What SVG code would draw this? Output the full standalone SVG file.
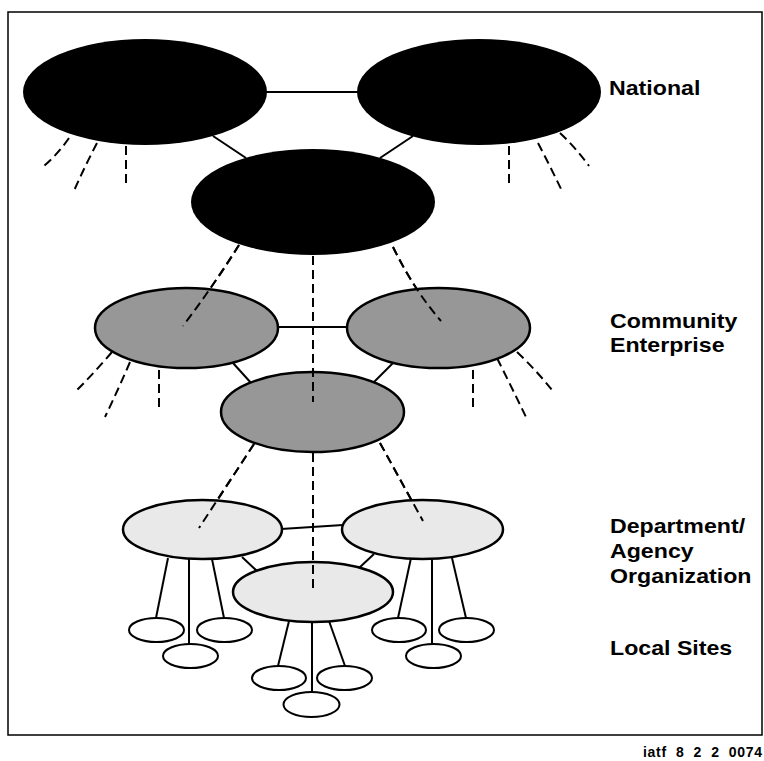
<svg xmlns="http://www.w3.org/2000/svg" width="764" height="761" viewBox="0 0 764 761">
<style>
.frame{fill:none;stroke:#000;stroke-width:1.5}
.nat{fill:#000;stroke:none}
.com{fill:#979797;stroke:#000;stroke-width:2.5}
.dep{fill:#e9e9e9;stroke:#000;stroke-width:2.5}
.loc{fill:#fff;stroke:#000;stroke-width:2}
.solid{fill:none;stroke:#000;stroke-width:2}
.dash{fill:none;stroke:#000;stroke-width:2;stroke-dasharray:9,5}
.lbl{font-family:"Liberation Sans",Arial,sans-serif;font-weight:bold;font-size:20.5px;fill:#000}
.cap{font-family:"Liberation Sans",Arial,sans-serif;font-weight:bold;font-size:14px;fill:#000}
</style>
<rect class="frame" x="8" y="12" width="754" height="723"/>
<g id="connectors">
  <line class="solid" x1="265" y1="92" x2="359" y2="92"/>
  <line class="solid" x1="213" y1="136" x2="246" y2="158"/>
  <line class="solid" x1="413" y1="136" x2="380" y2="158"/>
  <path class="dash" d="M69,138 Q58,154 44,166"/>
  <path class="dash" d="M97,143 Q84,168 73,193"/>
  <line class="dash" x1="126" y1="146" x2="126" y2="184"/>
  <line class="dash" x1="509" y1="146" x2="509" y2="184"/>
  <path class="dash" d="M538,143 Q551,168 563,193"/>
  <path class="dash" d="M560,133 Q576,148 589,166"/>
  <path class="dash" d="M239,245 Q214,285 183,326"/>
  <line class="dash" x1="313" y1="256" x2="313" y2="402"/>
  <path class="dash" d="M393,247 Q414,290 441,321"/>
  <line class="solid" x1="278" y1="327" x2="347" y2="327"/>
  <line class="solid" x1="233" y1="363" x2="252" y2="384"/>
  <line class="solid" x1="393" y1="363" x2="373" y2="383"/>
  <path class="dash" d="M112,352 Q95,372 77,390"/>
  <path class="dash" d="M130,362 Q118,390 105,417"/>
  <line class="dash" x1="159" y1="370" x2="159" y2="408"/>
  <line class="dash" x1="473" y1="370" x2="473" y2="408"/>
  <path class="dash" d="M497,358 Q512,388 526,417"/>
  <path class="dash" d="M517,352 Q536,370 552,390"/>
  <line class="dash" x1="254" y1="444" x2="199" y2="528"/>
  <line class="dash" x1="313" y1="453" x2="313" y2="588"/>
  <line class="dash" x1="380" y1="443" x2="423" y2="521"/>
  <line class="solid" x1="281" y1="529" x2="343" y2="525"/>
  <line class="solid" x1="242" y1="557" x2="257" y2="571"/>
  <line class="solid" x1="374" y1="554" x2="359" y2="568"/>
  <line class="solid" x1="168" y1="558" x2="156" y2="618"/>
  <line class="solid" x1="189" y1="559" x2="189" y2="644"/>
  <line class="solid" x1="212" y1="559" x2="224" y2="618"/>
  <line class="solid" x1="289" y1="621" x2="278" y2="666"/>
  <line class="solid" x1="312" y1="622" x2="312" y2="692"/>
  <line class="solid" x1="329" y1="621" x2="345" y2="666"/>
  <line class="solid" x1="411" y1="558" x2="398" y2="618"/>
  <line class="solid" x1="432" y1="559" x2="432" y2="644"/>
  <line class="solid" x1="452" y1="558" x2="466" y2="618"/>
</g>
<g id="national-left"><ellipse class="nat" cx="145" cy="92" rx="122" ry="53"/></g>
<g id="national-right"><ellipse class="nat" cx="479" cy="92" rx="122" ry="53"/></g>
<g id="national-center"><ellipse class="nat" cx="313" cy="202" rx="122" ry="53"/></g>
<g id="community-left"><ellipse class="com" cx="186.5" cy="328" rx="91.5" ry="40"/></g>
<g id="community-right"><ellipse class="com" cx="438.5" cy="328" rx="91.5" ry="40"/></g>
<g id="community-center"><ellipse class="com" cx="312.5" cy="412" rx="91.5" ry="40"/></g>
<g id="overlay-dashes">
  <path class="dash" d="M239,245 Q214,285 183,326"/>
  <path class="dash" d="M393,247 Q414,290 441,321"/>
  <line class="dash" x1="313" y1="256" x2="313" y2="402"/>
</g>
<g id="dept-left"><ellipse class="dep" cx="202.5" cy="529.5" rx="79.5" ry="29.5"/></g>
<g id="dept-right"><ellipse class="dep" cx="422.5" cy="529.5" rx="80.5" ry="29.5"/></g>
<g id="dept-center"><ellipse class="dep" cx="313" cy="592" rx="80" ry="30"/></g>
<g id="overlay-dashes-2">
  <line class="dash" x1="254" y1="444" x2="199" y2="528"/>
  <line class="dash" x1="313" y1="453" x2="313" y2="588"/>
  <line class="dash" x1="380" y1="443" x2="423" y2="521"/>
</g>
<g id="site-1"><ellipse class="loc" cx="156.5" cy="630" rx="27.5" ry="12"/></g>
<g id="site-2"><ellipse class="loc" cx="224.5" cy="630" rx="27.5" ry="12"/></g>
<g id="site-3"><ellipse class="loc" cx="190.5" cy="656" rx="27.5" ry="12"/></g>
<g id="site-4"><ellipse class="loc" cx="279" cy="678" rx="27" ry="12"/></g>
<g id="site-5"><ellipse class="loc" cx="344.5" cy="678" rx="27.5" ry="12"/></g>
<g id="site-6"><ellipse class="loc" cx="311.5" cy="704.5" rx="28" ry="12.5"/></g>
<g id="site-7"><ellipse class="loc" cx="399" cy="630" rx="27" ry="12"/></g>
<g id="site-8"><ellipse class="loc" cx="466.5" cy="630" rx="27.5" ry="12"/></g>
<g id="site-9"><ellipse class="loc" cx="433.5" cy="656" rx="27.5" ry="12"/></g>
<g id="labels">
  <text class="lbl" transform="translate(609,95) scale(1.13,1)">National</text>
  <text class="lbl" transform="translate(610,328) scale(1.13,1)">Community</text>
  <text class="lbl" transform="translate(610,352) scale(1.13,1)">Enterprise</text>
  <text class="lbl" transform="translate(610,533) scale(1.13,1)">Department/</text>
  <text class="lbl" transform="translate(610,558) scale(1.13,1)">Agency</text>
  <text class="lbl" transform="translate(610,583) scale(1.13,1)">Organization</text>
  <text class="lbl" transform="translate(610,655) scale(1.13,1)">Local Sites</text>
  <text class="cap" x="643" y="757" textLength="119" lengthAdjust="spacing" xml:space="preserve">iatf  8  2  2  0074</text>
</g>
</svg>
